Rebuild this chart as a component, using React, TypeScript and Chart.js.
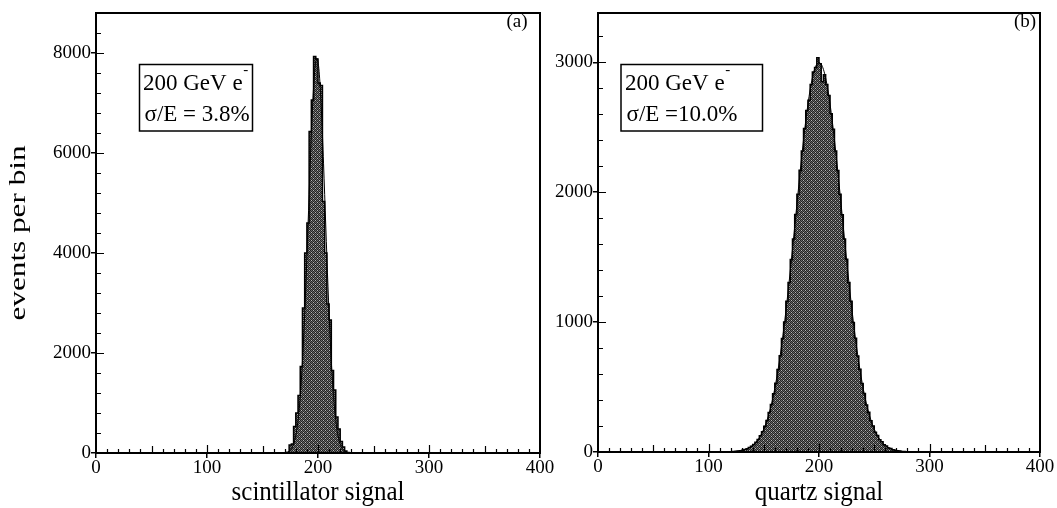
import React, { useEffect, useRef } from 'react';
import { Chart, registerables } from 'chart.js';

Chart.register(...registerables);

const SERIF = "'Liberation Serif', 'Times New Roman', Times, serif";

// shared binning / x axis
const BIN_WIDTH = 2;
const X_MIN = 0;
const X_MAX = 400;
const xTickLabels = [0, 100, 200, 300, 400];

// panel (a): scintillator signal
const scintFirstEdge = 172;
const scintCounts = [15, 160, 180, 530, 800, 1150, 1730, 2900, 4000, 4600, 6430, 7060, 7930, 7880, 7400, 7350, 5030, 4000, 2980, 2660, 1650, 1260, 720, 480, 230, 120, 40, 10];
const scintFitX = [173, 175, 177, 179, 181, 183, 185, 187, 189, 191, 193, 195, 197, 199, 201, 203, 205, 207, 209, 211, 213, 215, 217, 219, 221, 223, 225];
const scintFitY = [23, 54, 120, 248, 478, 862, 1449, 2270, 3322, 4540, 5784, 6878, 7631, 7900, 7631, 6878, 5784, 4540, 3322, 2270, 1449, 862, 478, 248, 120, 54, 23];
const scintYMax = 8800;
const scintYTicks = [0, 2000, 4000, 6000, 8000];
const scintYMinor = 400;

// panel (b): quartz signal
const quartzFirstEdge = 120;
const quartzCounts = [2, 3, 5, 7, 10, 14, 19, 25, 34, 44, 57, 76, 96, 126, 155, 199, 243, 304, 365, 448, 530, 636, 741, 873, 1000, 1160, 1305, 1482, 1640, 1828, 1985, 2170, 2318, 2490, 2630, 2708, 2830, 2925, 2960, 3036, 2990, 2850, 2905, 2830, 2745, 2605, 2485, 2318, 2168, 1985, 1826, 1640, 1484, 1305, 1160, 998, 875, 740, 638, 528, 450, 362, 306, 240, 200, 152, 128, 94, 78, 55, 46, 31, 26, 17, 14, 9, 7, 4, 3, 2];
const quartzFitX = [120, 124, 128, 132, 136, 140, 144, 148, 152, 156, 160, 164, 168, 172, 176, 180, 184, 188, 192, 196, 200, 204, 208, 212, 216, 220, 224, 228, 232, 236, 240, 244, 248, 252, 256, 260, 264, 268, 272, 276, 280];
const quartzFitY = [2, 4, 8, 16, 29, 51, 86, 140, 220, 334, 489, 690, 940, 1233, 1561, 1906, 2244, 2548, 2790, 2946, 3000, 2946, 2790, 2548, 2244, 1906, 1561, 1233, 940, 690, 489, 334, 220, 140, 86, 51, 29, 16, 8, 4, 2];
const quartzYMax = 3380;
const quartzYTicks = [0, 1000, 2000, 3000];
const quartzYMinor = 200;

function makeHatch(): CanvasPattern | string {
  const c = document.createElement('canvas');
  c.width = 4;
  c.height = 4;
  const g = c.getContext('2d');
  if (!g) return '#555';
  const map = ['KGKW', 'GKGK', 'KWKG', 'GKGK'];
  const col: Record<string, string> = { K: '#222222', G: '#6a6a6a', W: '#b4b4b4' };
  for (let r = 0; r < 4; r++) {
    for (let q = 0; q < 4; q++) {
      g.fillStyle = col[map[r][q]];
      g.fillRect(q, r, 1, 1);
    }
  }
  return g.createPattern(c, 'repeat') || '#555';
}

type PanelProps = {
  left: number;
  width: number;
  yAxisWidth: number;
  padRight: number;
  xAxisHeight: number;
  firstEdge: number;
  counts: number[];
  fitX: number[];
  fitY: number[];
  yMax: number;
  yTicks: number[];
  yMinor: number;
  xTitle: string;
  yTitle?: string;
  tag: string;
  tagX: number;
  box: { x: number; y: number; w: number; h: number; tx: number };
  line2: string;
};

function Panel(p: PanelProps) {
  const ref = useRef<HTMLCanvasElement | null>(null);
  useEffect(() => {
    const canvas = ref.current;
    if (!canvas) return;
    const hatch = makeHatch();
    const hist: { x: number; y: number }[] = [{ x: p.firstEdge, y: 0 }];
    p.counts.forEach((c, i) => hist.push({ x: p.firstEdge + i * BIN_WIDTH, y: c }));
    hist.push({ x: p.firstEdge + p.counts.length * BIN_WIDTH, y: 0 });
    const fit = p.fitX.map((x, i) => ({ x, y: p.fitY[i] }));

    const decor = {
      id: 'decor',
      afterDraw(chart: any) {
        const { ctx, chartArea: a } = chart;
        const xs = chart.scales.x;
        const ys = chart.scales.y;
        ctx.save();
        ctx.strokeStyle = '#000';
        ctx.fillStyle = '#000';
        // inner minor ticks
        ctx.lineWidth = 1.2;
        ctx.beginPath();
        for (let v = p.yMinor; v < p.yMax; v += p.yMinor) {
          const py = Math.round(ys.getPixelForValue(v)) + 0.5;
          const len = p.yTicks.includes(v) ? 8 : 5;
          ctx.moveTo(a.left, py);
          ctx.lineTo(a.left + len, py);
        }
        for (let v = X_MIN + 10; v < X_MAX; v += 10) {
          const px = Math.round(xs.getPixelForValue(v)) + 0.5;
          const len = v % 100 === 0 ? 8 : v % 50 === 0 ? 7 : 4;
          ctx.moveTo(px, a.bottom);
          ctx.lineTo(px, a.bottom - len);
        }
        ctx.stroke();
        // frame
        ctx.lineWidth = 2;
        ctx.strokeRect(a.left, a.top, a.right - a.left, a.bottom - a.top);
        // x title
        ctx.font = `25px ${SERIF}`;
        ctx.textAlign = 'center';
        ctx.textBaseline = 'alphabetic';
        ctx.save();
        ctx.translate((a.left + a.right) / 2, 500);
        ctx.scale(1, 1.12);
        ctx.fillText(p.xTitle, 0, 0);
        ctx.restore();
        // y title
        if (p.yTitle) {
          ctx.save();
          ctx.translate(25, (a.top + a.bottom) / 2);
          ctx.rotate(-Math.PI / 2);
          ctx.scale(1.3, 1);
          ctx.font = `24px ${SERIF}`;
          ctx.fillText(p.yTitle, 0, 0);
          ctx.restore();
        }
        // tag
        ctx.font = `19px ${SERIF}`;
        ctx.fillText(p.tag, p.tagX, 27);
        // annotation box
        ctx.lineWidth = 1.5;
        ctx.strokeRect(p.box.x, p.box.y, p.box.w, p.box.h);
        ctx.textAlign = 'left';
        ctx.font = `23px ${SERIF}`;
        const l1 = '200 GeV e';
        ctx.fillText(l1, p.box.tx, 90);
        const w1 = ctx.measureText(l1).width;
        ctx.font = `15px ${SERIF}`;
        ctx.fillText('-', p.box.tx + w1 + 0.5, 74);
        ctx.font = `23px ${SERIF}`;
        ctx.fillText(p.line2, p.box.tx + 1.5, 121);
        ctx.restore();
      },
    };

    const chart = new Chart(canvas, {
      type: 'line',
      data: {
        datasets: [
          {
            data: fit,
            borderColor: '#000',
            borderWidth: 1,
            pointRadius: 0,
            fill: false,
            cubicInterpolationMode: 'monotone',
            order: 0,
          },
          {
            data: hist,
            stepped: 'before',
            fill: 'origin',
            backgroundColor: hatch as any,
            borderColor: '#000',
            borderWidth: 1.5,
            pointRadius: 0,
            order: 1,
          },
        ],
      } as any,
      options: {
        animation: false,
        responsive: false,
        maintainAspectRatio: false,
        events: [],
        layout: { padding: { left: 0, right: p.padRight, top: 13, bottom: 0 } },
        plugins: { legend: { display: false }, tooltip: { enabled: false } },
        scales: {
          x: {
            type: 'linear',
            min: X_MIN,
            max: X_MAX,
            afterFit: (s: any) => {
              s.height = p.xAxisHeight;
            },
            afterBuildTicks: (s: any) => {
              s.ticks = xTickLabels.map((v) => ({ value: v }));
            },
            ticks: {
              font: { family: SERIF, size: 19 },
              color: '#000',
              padding: -1,
              maxRotation: 0,
              autoSkip: false,
              callback: (v: any) => String(v),
            },
            grid: { display: true, drawOnChartArea: false, drawTicks: true, tickLength: 5, color: '#000', lineWidth: 1.5 },
            border: { display: false },
          },
          y: {
            type: 'linear',
            min: 0,
            max: p.yMax,
            afterFit: (s: any) => {
              s.width = p.yAxisWidth;
            },
            afterBuildTicks: (s: any) => {
              s.ticks = p.yTicks.map((v) => ({ value: v }));
            },
            ticks: {
              font: { family: SERIF, size: 19 },
              color: '#000',
              padding: 0,
              autoSkip: false,
              callback: (v: any) => String(v),
            },
            grid: { display: true, drawOnChartArea: false, drawTicks: true, tickLength: 5, color: '#000', lineWidth: 1.5 },
            border: { display: false },
          },
        },
      } as any,
      plugins: [decor],
    });
    return () => chart.destroy();
  }, []);
  return (
    <canvas
      ref={ref}
      width={p.width}
      height={508}
      style={{ position: 'absolute', left: p.left, top: 0, width: p.width, height: 508 }}
    />
  );
}

export default function App() {
  return (
    <div style={{ position: 'fixed', left: 0, top: 0, width: 1057, height: 508, background: '#fff', overflow: 'hidden' }}>
      <Panel
        left={0}
        width={560}
        yAxisWidth={96}
        padRight={20}
        xAxisHeight={55}
        firstEdge={scintFirstEdge}
        counts={scintCounts}
        fitX={scintFitX}
        fitY={scintFitY}
        yMax={scintYMax}
        yTicks={scintYTicks}
        yMinor={scintYMinor}
        xTitle="scintillator signal"
        yTitle="events per bin"
        tag="(a)"
        tagX={517}
        box={{ x: 139.5, y: 64.5, w: 113, h: 66.5, tx: 143 }}
        line2="σ/E = 3.8%"
      />
      <Panel
        left={548}
        width={509}
        yAxisWidth={50}
        padRight={17}
        xAxisHeight={56}
        firstEdge={quartzFirstEdge}
        counts={quartzCounts}
        fitX={quartzFitX}
        fitY={quartzFitY}
        yMax={quartzYMax}
        yTicks={quartzYTicks}
        yMinor={quartzYMinor}
        xTitle="quartz signal"
        tag="(b)"
        tagX={477}
        box={{ x: 73, y: 64.5, w: 141.5, h: 66.5, tx: 77 }}
        line2="σ/E =10.0%"
      />
    </div>
  );
}
